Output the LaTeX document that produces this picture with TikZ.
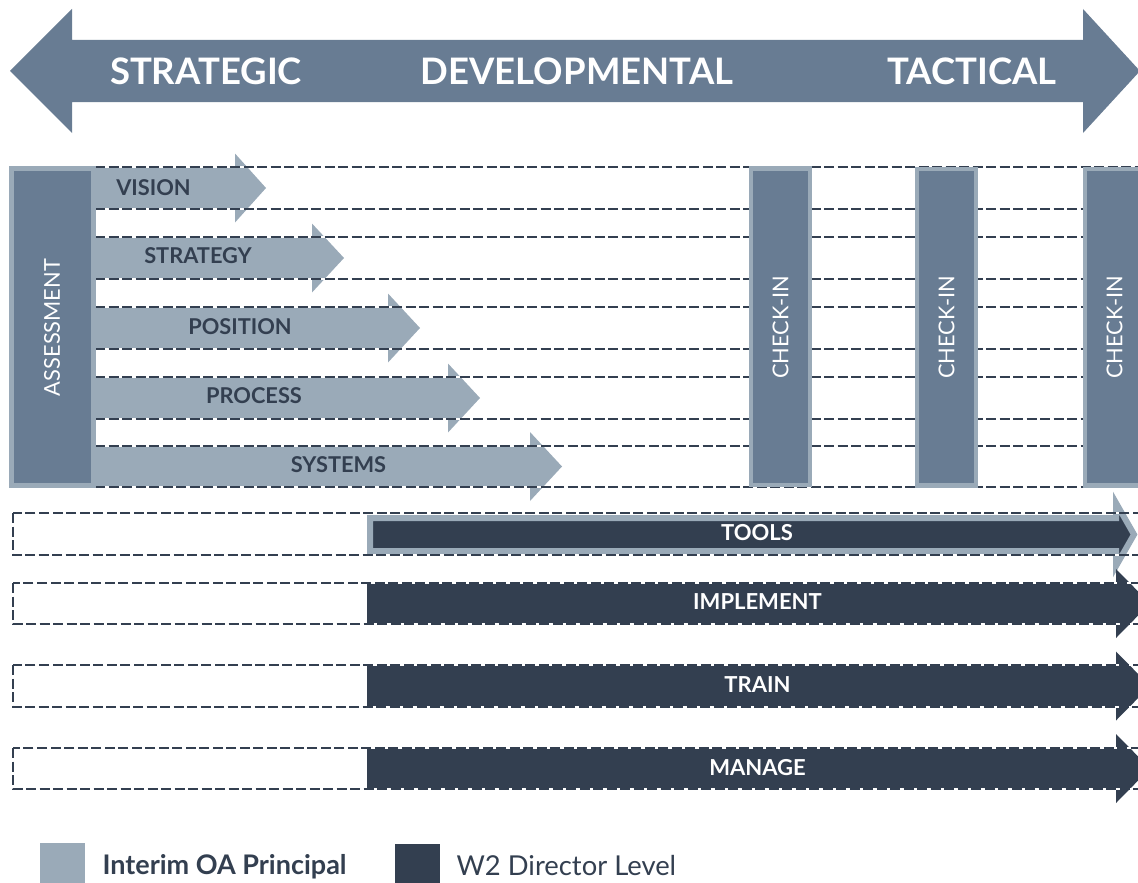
\documentclass[tikz,border=0pt]{standalone}
\usepackage{fontspec}
\setmainfont{Lato}
\usepackage{tikz}
\usetikzlibrary{positioning}
\definecolor{slate}{RGB}{104,124,147}
\definecolor{paleslate}{RGB}{154,170,184}
\definecolor{navy}{RGB}{51,63,80}
% block arrow: style, start x, centre y, head base x, tip x, half shaft
\newcommand{\phasearrow}[6]{%
\fill[#1] (#2,#3-#6) -- (#4,#3-#6) -- (#4,#3-34.5) -- (#5,#3)
 -- (#4,#3+34.5) -- (#4,#3+#6) -- (#2,#3+#6) -- cycle;}
\tikzset{
 rowline/.style={draw=navy, line width=2.3pt, dash pattern=on 10pt off 3.5pt,
  preaction={draw=white, solid, line width=2.3pt}},
 headcaps/.style={text=white, font=\fontsize{36.5}{42}\selectfont\bfseries},
 rowlabel/.style={text=navy, font=\fontsize{21.8}{26}\selectfont\bfseries},
 barlabel/.style={text=white, font=\fontsize{22}{26}\selectfont\bfseries},
 uplabel/.style={text=white, rotate=90, font=\fontsize{21.8}{26}\selectfont},
 pillar/.style={fill=slate, draw=paleslate, line width=4.5pt},
 keybox/.style={minimum width=45pt, minimum height=40pt, inner sep=0pt},
}
\begin{document}
\begin{tikzpicture}[x=1pt,y=-1pt]
\useasboundingbox (0,0) rectangle (1138,883);
\clip (0,0) rectangle (1138,883);
% Scale arrow
\fill[slate] (10,71) -- (72,9) -- (72,40) -- (1083,40) -- (1083,9) -- (1140,71)
 -- (1083,133) -- (1083,102) -- (72,102) -- (72,133) -- cycle;
\node[headcaps] (strategic) at (206,71) {STRATEGIC};
\node[headcaps] (developmental) at (577,71) {DEVELOPMENTAL};
\node[headcaps] (tactical) at (972,71) {TACTICAL};
%
% Interim principal arrows
\phasearrow{paleslate}{93}{188}{235}{266}{21}
\phasearrow{paleslate}{93}{258}{312}{344}{21}
\phasearrow{paleslate}{93}{328}{388}{420}{21}
\phasearrow{paleslate}{93}{398}{448}{480}{21}
\phasearrow{paleslate}{93}{466.5}{530}{562}{20.5}
% Director arrows
\filldraw[fill=navy, draw=paleslate, line width=6pt, line join=miter]
 (370,518) -- (1116,518) -- (1116,503) -- (1134,534.5) -- (1116,566)
 -- (1116,551) -- (370,551) -- cycle;
\phasearrow{navy}{367}{603.5}{1116}{1150}{19.5}
\phasearrow{navy}{367}{686}{1116}{1150}{21}
\phasearrow{navy}{367}{768.5}{1116}{1150}{20.5}
%
% Row guides
\foreach \y in {167,209,237,279,307,349,377,419,446,487}
 \draw[rowline] (95,\y) -- (1145,\y);
\foreach \t/\b in {513/555,583/624,665/707,748/789}
 \draw[rowline] (13,\t) rectangle (1150,\b);
%
% Assessment and check-ins
\filldraw[pillar] (11.5,168.5) rectangle (93.5,485.5);
\node[uplabel] (assessment) at (52,327.5) {ASSESSMENT};
\filldraw[pillar] (751,168.5) rectangle (810,485);
\filldraw[pillar] (917,169) rectangle (976,485.5);
\filldraw[pillar] (1085,169) rectangle (1144,485.5);
\node[uplabel] (checkone) at (780.5,327.5) {CHECK-IN};
\node[uplabel] (checktwo) at (946.5,327.5) {CHECK-IN};
\node[uplabel] (checkthree) at (1114.5,327.5) {CHECK-IN};
%
% Labels
\node[rowlabel] (vision) at (153.5,187.5) {VISION};
\node[rowlabel] (strategy) at (198,256) {STRATEGY};
\node[rowlabel] (position) at (240,326.5) {POSITION};
\node[rowlabel] (process) at (254,396) {PROCESS};
\node[rowlabel] (systems) at (338.5,464.5) {SYSTEMS};
\node[barlabel] (tools) at (757,532.5) {TOOLS};
\node[barlabel] (implement) at (757.5,602) {IMPLEMENT};
\node[barlabel] (train) at (757.5,685) {TRAIN};
\node[barlabel] (manage) at (757.5,767.5) {MANAGE};
%
% Key
\node[keybox, fill=paleslate] (keyinterim) at (62.5,863) {};
\node[keybox, fill=navy] (keydirector) at (417.5,863.5) {};
\node[anchor=base west, text=navy, font=\fontsize{27}{32}\selectfont\bfseries]
 (interim) at (99,874) {Interim OA Principal};
\node[anchor=base west, text=navy, font=\fontsize{27.4}{32}\selectfont]
 (director) at (453,875) {W2 Director Level};
\end{tikzpicture}
\end{document}
